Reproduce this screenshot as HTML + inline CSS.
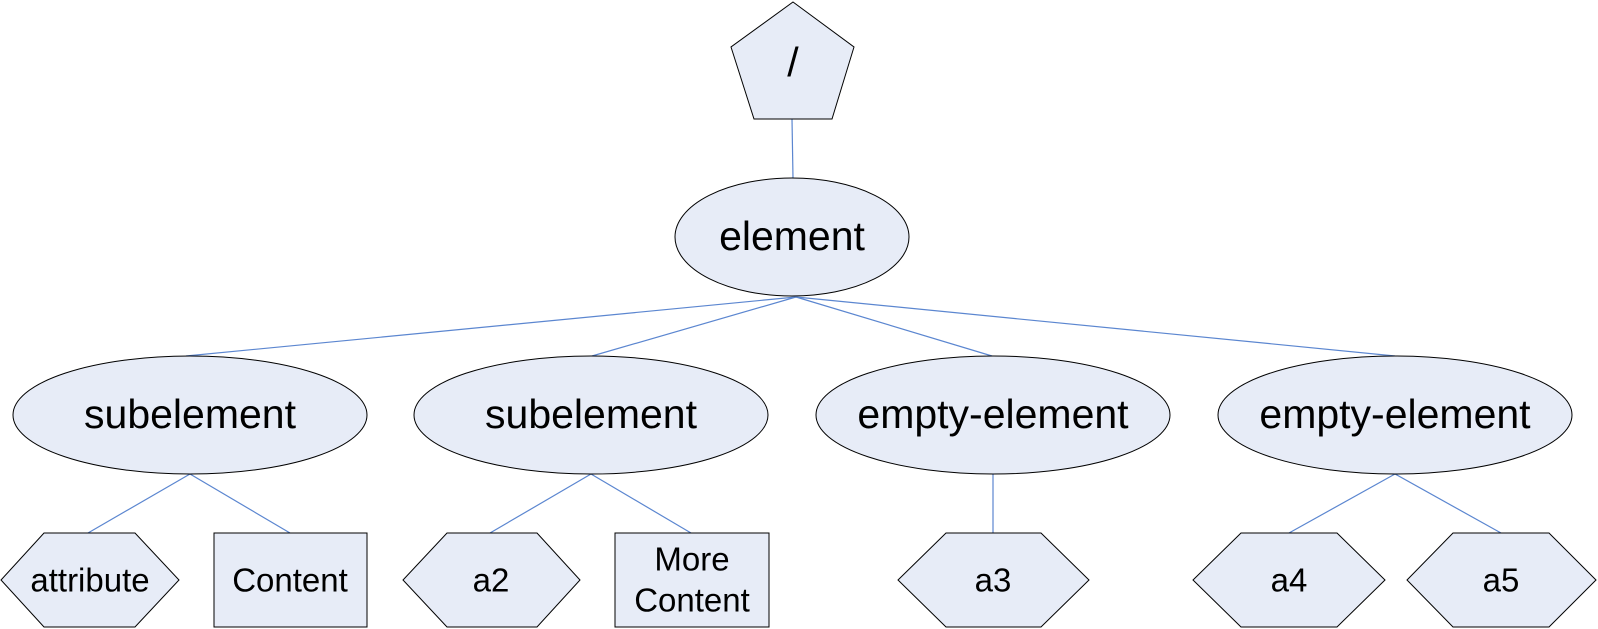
<!DOCTYPE html>
<html><head><meta charset="utf-8"><style>
html,body{margin:0;padding:0;background:#fff;}
svg{display:block;}
text{font-family:"Liberation Sans",Arial,sans-serif;fill:#000;text-anchor:middle;dominant-baseline:central;}
</style></head><body>
<svg width="1598" height="629" viewBox="0 0 1598 629" xmlns="http://www.w3.org/2000/svg">
<g stroke="#5b86d0" stroke-width="1.2" fill="none">
<line x1="792" y1="119" x2="793" y2="178"/>
<line x1="796" y1="297" x2="186" y2="356"/>
<line x1="796" y1="297" x2="592" y2="356"/>
<line x1="796" y1="297" x2="992" y2="356"/>
<line x1="796" y1="297" x2="1395" y2="356"/>
<line x1="190" y1="474" x2="88" y2="533"/>
<line x1="190" y1="474" x2="290" y2="533"/>
<line x1="591" y1="474" x2="490" y2="533"/>
<line x1="591" y1="474" x2="691" y2="533"/>
<line x1="993" y1="474" x2="993" y2="533"/>
<line x1="1395" y1="474" x2="1289" y2="533"/>
<line x1="1395" y1="474" x2="1501" y2="533"/>
</g>
<g fill="#e7ecf7" stroke="#000" stroke-width="1">
<polygon points="793,2 854,47 832,119 754,119 731,47"/>
<ellipse cx="792" cy="237" rx="117" ry="59"/>
<ellipse cx="190" cy="415" rx="177" ry="59"/>
<ellipse cx="591" cy="415" rx="177" ry="59"/>
<ellipse cx="993" cy="415" rx="177" ry="59"/>
<ellipse cx="1395" cy="415" rx="177" ry="59"/>
<polygon points="44,533 135,533 179,580 135,627 44,627 1,580"/>
<rect x="214" y="533" width="153" height="94"/>
<polygon points="447,533 537,533 580,580 537,627 447,627 403,580"/>
<rect x="615" y="533" width="154" height="94"/>
<polygon points="946,533 1041,533 1089,580 1041,627 946,627 898,580"/>
<polygon points="1241,533 1337,533 1385,580 1337,627 1241,627 1193,580"/>
<polygon points="1453,533 1549,533 1596,580 1549,627 1453,627 1407,580"/>
</g>
<text x="793" y="62" font-size="41">/</text>
<text x="792" y="236" font-size="41">element</text>
<text x="190" y="414" font-size="41">subelement</text>
<text x="591" y="414" font-size="41">subelement</text>
<text x="993" y="414" font-size="41">empty-element</text>
<text x="1395" y="414" font-size="41">empty-element</text>
<text x="90" y="580" font-size="33">attribute</text>
<text x="290" y="580" font-size="33">Content</text>
<text x="491" y="580" font-size="33">a2</text>
<text x="692" y="559" font-size="33">More</text>
<text x="692" y="600" font-size="33">Content</text>
<text x="993" y="580" font-size="33">a3</text>
<text x="1289" y="580" font-size="33">a4</text>
<text x="1501" y="580" font-size="33">a5</text>
</svg>
</body></html>
